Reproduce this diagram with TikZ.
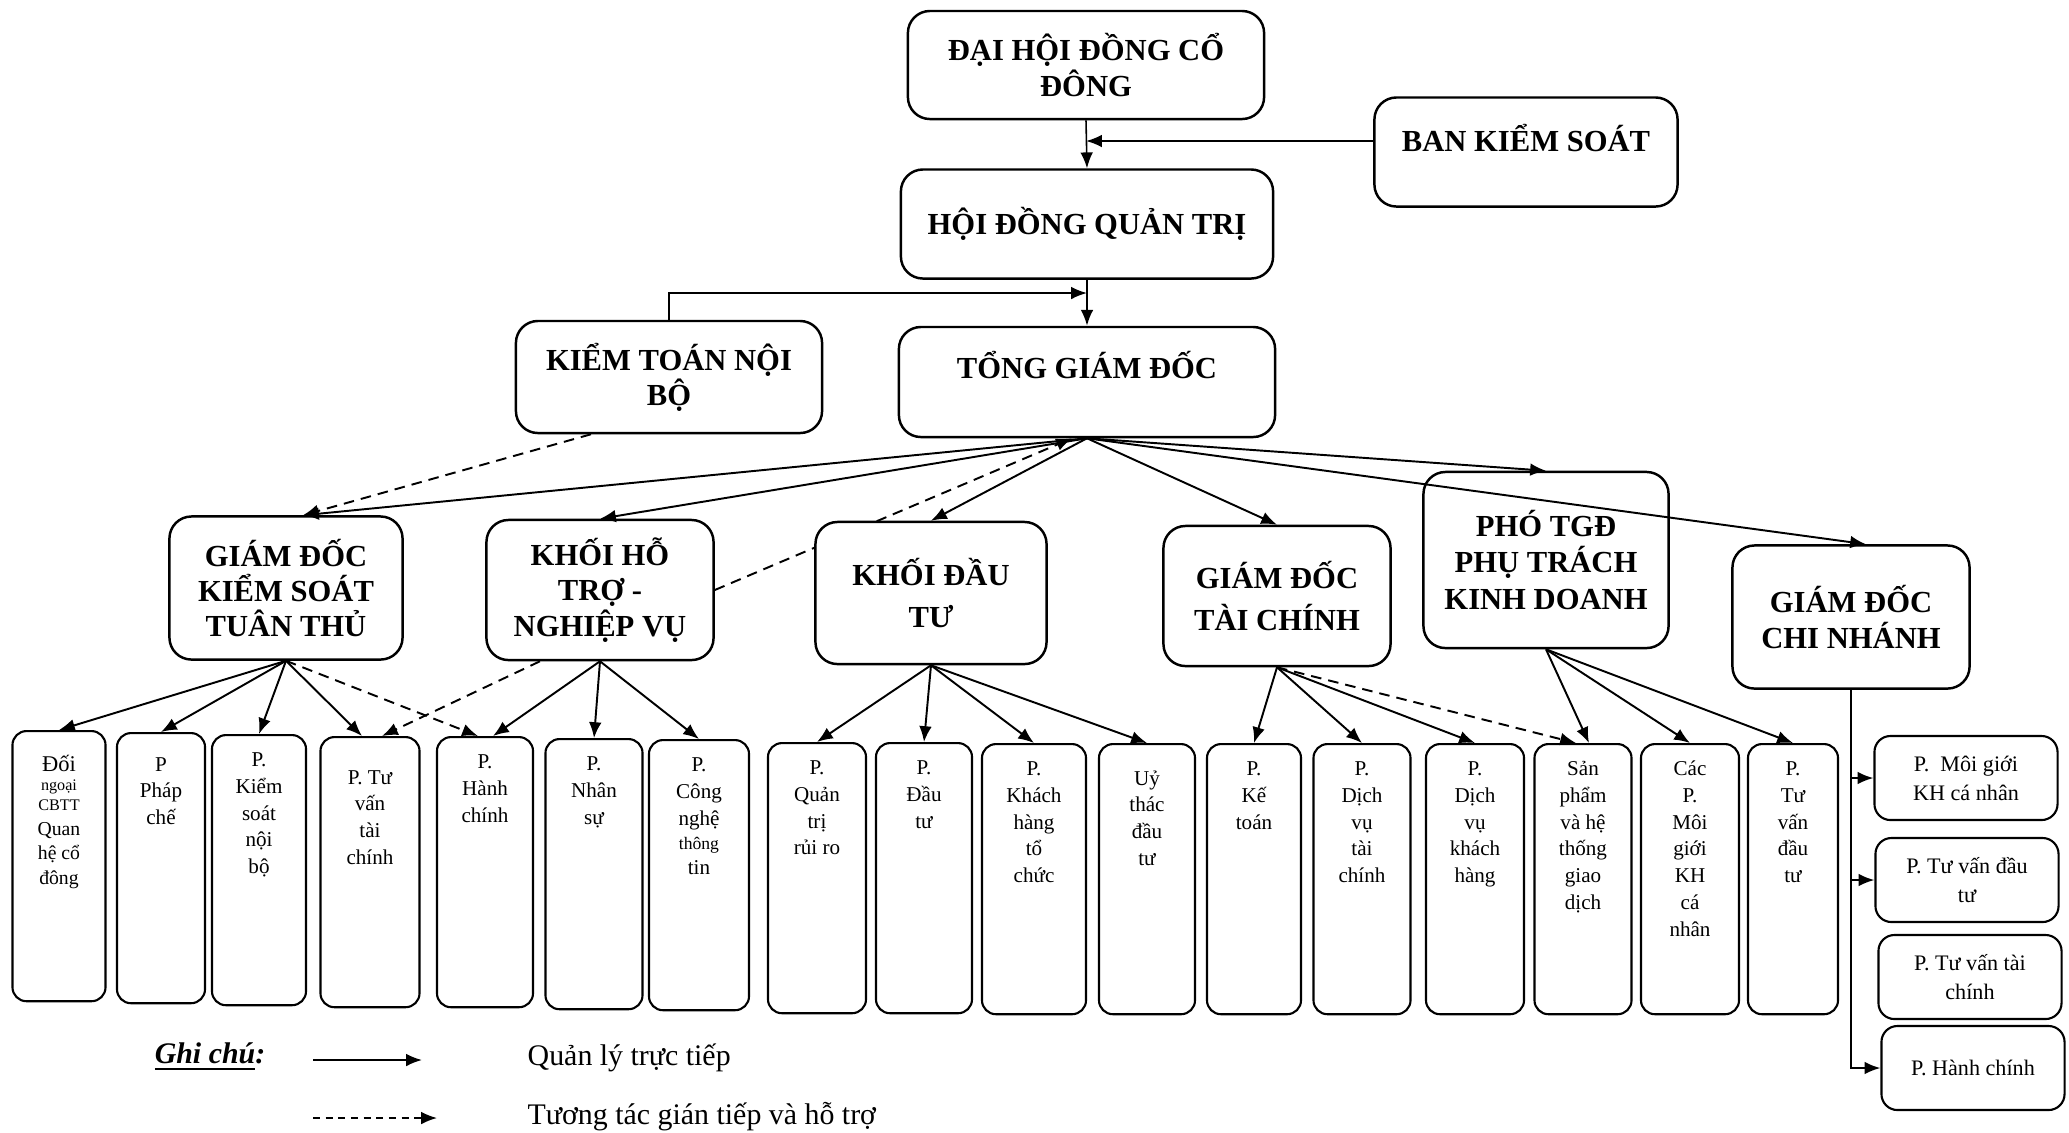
\documentclass[tikz,border=0pt]{standalone}
\usepackage{fontspec}
\setmainfont{Liberation Serif}
\usetikzlibrary{arrows.meta, backgrounds}

\newcommand{\deptext}[1]{\parbox[t][2.44cm][t]{0.84cm}{\centering\strut#1}}

\begin{document}
\begin{tikzpicture}[x=0.01cm, y=-0.01cm, >={Latex[length=4.5pt,width=3.6pt]},
    head/.style={draw, line width=0.7pt, rounded corners=0.22cm, fill=white, align=center, inner sep=2pt, font=\bfseries\fontsize{8.7}{10}\selectfont},
    dept/.style={draw, line width=0.6pt, rounded corners=0.14cm, fill=white, anchor=north, inner xsep=0pt, inner ysep=0.13cm, minimum height=2.7cm, font=\fontsize{6}{7.6}\selectfont},
    side/.style={draw, line width=0.6pt, rounded corners=0.16cm, fill=white, align=center, minimum width=1.83cm, minimum height=0.84cm, font=\fontsize{6.3}{8.3}\selectfont},
    link/.style={->, line width=0.55pt},
    help/.style={->, line width=0.55pt, dash pattern=on 3pt off 2pt}]
    \useasboundingbox (0,0) rectangle (2069,1132);

    % top of the chart
    \node[head, minimum width=3.56cm, minimum height=1.08cm] (dh) at (1086,65) {ĐẠI HỘI ĐỒNG CỔ\\ĐÔNG};
    \node[head, minimum width=3.03cm, minimum height=1.09cm, text depth=7.8pt] (bks) at (1526,152) {BAN KIỂM SOÁT};
    \node[head, minimum width=3.72cm, minimum height=1.09cm] (hd) at (1087,224) {HỘI ĐỒNG QUẢN TRỊ};
    \node[head, minimum width=3.06cm, minimum height=1.12cm] (ktnb) at (669,377) {KIỂM TOÁN NỘI\\BỘ};
    \node[head, minimum width=3.76cm, minimum height=1.10cm, text depth=10pt] (tgd) at (1087,382) {TỔNG GIÁM ĐỐC};

    % second level
    \node[head, minimum width=2.33cm, minimum height=1.43cm] (g1) at (286,588) {GIÁM ĐỐC\\KIỂM SOÁT\\TUÂN THỦ};
    \node[head, minimum width=2.27cm, minimum height=1.40cm] (g2) at (600,590) {KHỐI HỖ\\TRỢ -\\NGHIỆP VỤ};
    \node[head, minimum width=2.31cm, minimum height=1.42cm, font=\bfseries\fontsize{8.7}{12.2}\selectfont] (g3) at (931,593) {KHỐI ĐẦU\\TƯ};
    \node[head, minimum width=2.27cm, minimum height=1.40cm, font=\bfseries\fontsize{8.7}{12}\selectfont] (g4) at (1277,596) {GIÁM ĐỐC\\TÀI CHÍNH};
    \node[head, minimum width=2.45cm, minimum height=1.76cm, font=\bfseries\fontsize{8.7}{10.5}\selectfont] (g5) at (1546,560) {PHÓ TGĐ\\PHỤ TRÁCH\\KINH DOANH};
    \node[head, minimum width=2.37cm, minimum height=1.43cm, font=\bfseries\fontsize{8.7}{10.5}\selectfont] (g6) at (1851,617) {GIÁM ĐỐC\\CHI NHÁNH};

    % departments
    \node[dept, minimum width=0.93cm] (p1) at (59,730) {\deptext{\rule{0pt}{0.27cm}\fontsize{6.4}{7}\selectfont Đối\par\fontsize{4.6}{5.6}\selectfont ngoại\par CBTT\par\fontsize{5.6}{7}\selectfont Quan\par hệ cổ\par đông}};
    \node[dept, minimum width=0.88cm] (p2) at (161,732) {\deptext{\rule{0pt}{0.25cm}P\\Pháp\\chế}};
    \node[dept, minimum width=0.94cm] (p3) at (259,734) {\deptext{P.\\Kiểm\\soát\\nội\\bộ}};
    \node[dept, minimum width=0.99cm] (p4) at (370,736) {\deptext{\rule{0pt}{0.34cm}P. Tư\\vấn\\tài\\chính}};
    \node[dept, minimum width=0.96cm] (p5) at (485,736) {\deptext{P.\\Hành\\chính}};
    \node[dept, minimum width=0.97cm] (p6) at (594,738) {\deptext{P.\\Nhân\\sự}};
    \node[dept, minimum width=1.00cm] (p7) at (699,739) {\deptext{P.\\Công\\nghệ\par\fontsize{5}{6.8}\selectfont thông\par\fontsize{6}{7.2}\selectfont tin}};
    \node[dept, minimum width=0.98cm] (p8) at (817,742) {\deptext{P.\\Quản\\trị\\rủi ro}};
    \node[dept, minimum width=0.96cm] (p9) at (924,742) {\deptext{P.\\Đầu\\tư}};
    \node[dept, minimum width=1.04cm] (p10) at (1034,743) {\deptext{P.\\Khách\\hàng\\tổ\\chức}};
    \node[dept, minimum width=0.96cm] (p11) at (1147,743) {\deptext{\rule{0pt}{0.28cm}Uỷ\\thác\\đầu\\tư}};
    \node[dept, minimum width=0.94cm] (p12) at (1254,743) {\deptext{P.\\Kế\\toán}};
    \node[dept, minimum width=0.97cm] (p13) at (1362,743) {\deptext{P.\\Dịch\\vụ\\tài\\chính}};
    \node[dept, minimum width=0.98cm] (p14) at (1475,743) {\deptext{P.\\Dịch\\vụ\\khách\\hàng}};
    \node[dept, minimum width=0.97cm] (p15) at (1583,743) {\deptext{Sản\\phẩm\\và hệ\\thống\\giao\\dịch}};
    \node[dept, minimum width=0.98cm] (p16) at (1690,743) {\deptext{Các\\P.\\Môi\\giới\\KH\\cá\\nhân}};
    \node[dept, minimum width=0.90cm] (p17) at (1793,743) {\deptext{P.\\Tư\\vấn\\đầu\\tư}};

    % branch departments
    \node[side] (r1) at (1966,778) {P.\enspace Môi giới\\KH cá nhân};
    \node[side] (r2) at (1967,880) {P. Tư vấn đầu\\tư};
    \node[side] (r3) at (1970,977) {P. Tư vấn tài\\chính};
    \node[side] (r4) at (1973,1068) {P. Hành chính};

    % upper connectors
    \draw[link, line width=0.45pt] (dh.south) -- (hd.north);
    \coordinate (m1) at ([yshift=0.11cm]bks.west -| dh.south);
    \draw[link] ([yshift=0.11cm]bks.west) -- (m1);
    \draw[link] (hd.south) -- (tgd.north);
    \coordinate (m2) at (1087,293);
    \draw[link] (ktnb.north) |- (m2);
    \draw[help] ([xshift=-0.78cm]ktnb.south) -- ([xshift=0.17cm]g1.north);

    \draw[link] (tgd.south) -- ([xshift=0.17cm]g1.north);
    \foreach \n in {g2,g3,g4,g5} {
        \draw[link] (tgd.south) -- (\n.north);
    }
    \draw[link] (tgd.south) -- ([xshift=0.15cm]g6.north);
    \begin{pgfonlayer}{background}
        \draw[help] (g2.east) -- ([xshift=-0.15cm]tgd.south);
    \end{pgfonlayer}

    % lower connectors
    \foreach \n in {p1,p2,p3} {
        \draw[link] (g1.south) -- (\n.north);
    }
    \draw[link] (g1.south) -- ([xshift=-0.08cm]p4.north);
    \draw[help] (g1.south) -- ([xshift=-0.07cm]p5.north);
    \draw[help] ([xshift=-0.6cm]g2.south) -- ([xshift=0.12cm]p4.north);
    \draw[link] (g2.south) -- ([xshift=0.08cm]p5.north);
    \foreach \n in {p6,p7} {
        \draw[link] (g2.south) -- (\n.north);
    }
    \foreach \n in {p8,p9,p10,p11} {
        \draw[link] (g3.south) -- (\n.north);
    }
    \foreach \n in {p12,p13,p14} {
        \draw[link] (g4.south) -- (\n.north);
    }
    \draw[help] (g4.south) -- ([xshift=-0.07cm]p15.north);
    \draw[link] (g5.south) -- ([xshift=0.06cm]p15.north);
    \foreach \n in {p16,p17} {
        \draw[link] (g5.south) -- (\n.north);
    }
    \draw[link] (g6.south) |- (r4.west);
    \foreach \n in {r1,r2} {
        \draw[link] (g6.south |- \n.west) -- (\n.west);
    }

    % legend
    \node[font=\bfseries\fontsize{8.5}{10}\selectfont] (note) at (210,1057) {\underline{\textit{Ghi chú}}\textit{:}};
    \coordinate (l1a) at (313,1060);
    \coordinate (l1b) at (422,1060);
    \draw[link] (l1a) -- (l1b);
    \node[anchor=west, inner sep=0pt, font=\fontsize{8.5}{10}\selectfont] (t1) at (527,1058) {Quản lý trực tiếp};
    \coordinate (l2a) at (313,1118);
    \coordinate (l2b) at (437,1118);
    \draw[->, line width=0.5pt, dash pattern=on 2pt off 1.6pt] (l2a) -- (l2b);
    \node[anchor=west, inner sep=0pt, font=\fontsize{8.5}{10}\selectfont] (t2) at (527,1117) {Tương tác gián tiếp và hỗ trợ};
\end{tikzpicture}
\end{document}
